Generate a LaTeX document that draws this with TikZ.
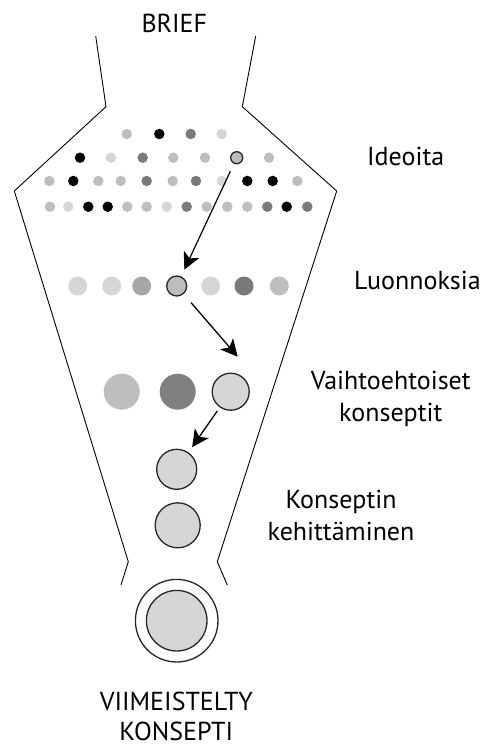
\documentclass[tikz,border=0pt]{standalone}
\usepackage{fontspec}
\setmainfont{PT Sans}
\usetikzlibrary{arrows.meta}

% fill shades for the dots
\definecolor{shadeV}{HTML}{D6D6D6}
\definecolor{shadeL}{HTML}{BEBEBE}
\definecolor{shadeM}{HTML}{A6A6A6}
\definecolor{shadeD}{HTML}{7A7A7A}
\definecolor{shadeK}{HTML}{000000}
\definecolor{shadeH}{HTML}{BDBDBD}
\definecolor{shadeC}{HTML}{808080}

\tikzset{
  funnel/.style={line width=0.9pt, line join=miter},
  dot/.style={circle, inner sep=0pt, outer sep=0pt, minimum size=#1, draw=none},
  picked/.style={circle, inner sep=0pt, outer sep=0pt, minimum size=#1, draw=black!85, line width=1.3pt, fill=shadeV},
  flow/.style={line width=1.3pt, -{Stealth[length=17pt,width=17pt,inset=4.5pt]}},
  label/.style={font=\fontsize{26}{32.7}\selectfont, inner sep=0pt, align=center, anchor=base},
}

\begin{document}
\begin{tikzpicture}[x=1pt, y=-1pt]
\useasboundingbox (0,0) rectangle (486,746);

% funnel outline
\draw[funnel] (95.7,36) -- (106,106.7) -- (14.3,191) -- (128.3,561.7) -- (121,585);
\draw[funnel] (255.7,36) -- (242.3,106.7) -- (336.7,191) -- (217.3,561.7) -- (227.3,585);

% ideas, four rows
\foreach \x/\c [count=\n] in {126.7/L,159.3/K,190.7/D,221.7/V}
  \node[dot=10.5pt, fill=shade\c] (ia\n) at (\x,134) {};
\foreach \x/\c [count=\n] in {80/K,111/V,142.7/D,173.3/L,205/L,269/L}
  \node[dot=10.5pt, fill=shade\c] (ib\n) at (\x,157.7) {};
\node[picked=12pt, fill=shadeH] (idea) at (236.7,157.7) {};
\foreach \x/\c [count=\n] in {49.3/L,73.3/K,98.3/L,120.7/L,146.7/D,172.7/L,196/D,221.7/V,247.3/K,272.7/K,297.3/L}
  \node[dot=10.5pt, fill=shade\c] (ic\n) at (\x,181) {};
\foreach \x/\c [count=\n] in {50/L,68.3/V,88.3/K,107.7/K,127.3/L,146.7/L,166.7/V,186.7/D,206.7/L,227.3/L,247.3/L,267.3/D,286.7/K,307.3/D}
  \node[dot=10.5pt, fill=shade\c] (id\n) at (\x,206.7) {};

% sketches
\foreach \x/\c [count=\n] in {77.7/V,111.7/V,141.7/M,210.7/V,244/D,279.3/L}
  \node[dot=19pt, fill=shade\c] (s\n) at (\x,286) {};
\node[picked=20pt, fill=shadeH] (sketch) at (176.7,286) {};

% alternative concepts
\node[dot=36pt, fill=shadeL] (c1) at (121.7,391.7) {};
\node[dot=36pt, fill=shadeC] (c2) at (177.7,391.7) {};
\node[picked=37pt] (concept) at (230.7,391.7) {};

% concept development
\node[picked=40pt] (dev1) at (176.7,469.3) {};
\node[picked=45pt] (dev2) at (177.7,525.3) {};

% finished concept
\node[circle, draw=black!85, line width=1.3pt, fill=white, minimum size=82.6pt, inner sep=0pt] (finalring) at (176.7,620.7) {};
\node[picked=60.6pt] (final) at (finalring.center) {};

% arrows between the chosen items
\coordinate (tip2) at ([shift={(7,-35)}]concept.center);
\draw[flow, line width=1.2pt, shorten <=9pt, shorten >=8pt] (idea) -- (sketch);
\draw[flow, shorten <=12pt] (sketch) -- (tip2);
\draw[flow, shorten <=5pt, shorten >=7pt] (concept) -- (dev1);

% labels (base anchor sits on the last line)
\node[label] (brief) at (174.3,32.3) {BRIEF};
\node[label] (lideas) at (405.7,165) {Ideoita};
\node[label] (lsketch) at (417.5,289.3) {Luonnoksia};
\node[label] (lalt) at (390.8,421.7) {Vaihtoehtoiset\\konseptit};
\node[label] (ldev) at (341,540.7) {Konseptin\\kehittäminen};
\node[label, font=\fontsize{26}{30}\selectfont, text depth=0pt] (lfinal) at (176.3,740) {VIIMEISTELTY\\KONSEPTI};
\end{tikzpicture}
\end{document}
